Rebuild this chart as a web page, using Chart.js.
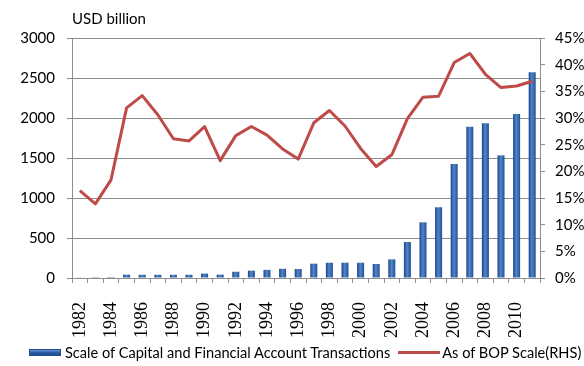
<!DOCTYPE html>
<html>
<head>
<meta charset="utf-8">
<script src="https://cdn.jsdelivr.net/npm/chart.js@4.4.1/dist/chart.umd.min.js"></script>
<style>
  body { margin: 0; background: #fff; }
  #wrap { position: relative; width: 584px; height: 366px; }
  #chart { position: absolute; left: 0; top: 0; }
  #unit { position: absolute; left: 72px; top: 9px; font: 15px Lato, sans-serif; color: #000; }
  #legend { position: absolute; left: 29px; top: 344px; display: flex; align-items: center; font: 14.6px Lato, sans-serif; color: #000; white-space: nowrap; }
  .swatch-bar { width: 32px; height: 7px; margin-right: 4px; background: linear-gradient(#6f9ad6, #2d5ea6 45%, #1e4a8c); border: 1px solid #244f8f; box-sizing: border-box; }
  .swatch-line { width: 42px; height: 3px; margin: 0 2px 0 8px; background: #be4b48; }
</style>
</head>
<body>
<div id="wrap">
  <canvas id="chart" width="584" height="366"></canvas>
  <div id="unit">USD billion</div>
  <div id="legend">
    <span class="swatch-bar"></span><span>Scale of Capital and Financial Account Transactions</span>
    <span class="swatch-line"></span><span>As of BOP Scale(RHS)</span>
  </div>
</div>
<script>
// Années (axe X)
const years = [
  '1982', '1983', '1984', '1985', '1986', '1987', '1988', '1989', '1990', '1991',
  '1992', '1993', '1994', '1995', '1996', '1997', '1998', '1999', '2000', '2001',
  '2002', '2003', '2004', '2005', '2006', '2007', '2008', '2009', '2010', '2011'
];

// Volume des transactions du compte de capital et financier (milliards USD)
const capitalFinancial = [
  8, 10, 12, 42, 40, 40, 40, 40, 55, 42,
  78, 92, 102, 115, 112, 179, 191, 191, 191, 175,
  233, 450, 696, 884, 1425, 1891, 1933, 1533, 2050, 2571
];

// Part dans la balance des paiements (%, axe de droite)
const bopShare = [
  16.4, 13.9, 18.4, 31.9, 34.2, 30.6, 26.1, 25.7, 28.4, 22.0,
  26.7, 28.4, 26.8, 24.2, 22.3, 29.1, 31.4, 28.5, 24.3, 20.9,
  23.1, 29.9, 33.9, 34.1, 40.4, 42.1, 38.2, 35.7, 36.0, 36.9
];

// Graduations des deux axes
const leftTicks = [0, 500, 1000, 1500, 2000, 2500, 3000];
const rightTicks = [0, 5, 10, 15, 20, 25, 30, 35, 40, 45];

const gridColor = '#8e8e8e';

// Dégradé horizontal pour chaque barre (bords foncés, centre clair)
function barGradient(context) {
  const chart = context.chart;
  const x = chart.scales.x;
  if (!x || context.type !== 'data') return '#2d5ea6';
  const px = x.getPixelForValue(context.dataIndex);
  if (!Number.isFinite(px)) return '#2d5ea6';
  const g = chart.ctx.createLinearGradient(px - 3.5, 0, px + 3.5, 0);
  g.addColorStop(0, '#1b4583');
  g.addColorStop(0.45, '#4f86cd');
  g.addColorStop(1, '#23518f');
  return g;
}

const ctx = document.getElementById('chart').getContext('2d');

new Chart(ctx, {
  data: {
    labels: years,
    datasets: [
      {
        type: 'line',
        label: 'As of BOP Scale(RHS)',
        data: bopShare,
        yAxisID: 'y1',
        borderColor: '#be4b48',
        borderWidth: 3,
        borderJoinStyle: 'round',
        pointRadius: 0,
        tension: 0,
        order: 0
      },
      {
        type: 'bar',
        label: 'Scale of Capital and Financial Account Transactions',
        data: capitalFinancial,
        yAxisID: 'y',
        backgroundColor: barGradient,
        borderWidth: 0,
        categoryPercentage: 0.9,
        barPercentage: 0.5,
        order: 1
      }
    ]
  },
  options: {
    responsive: false,
    animation: false,
    layout: { padding: { top: 38, left: 0, right: 0, bottom: 0 } },
    plugins: {
      legend: { display: false },
      tooltip: { enabled: false }
    },
    scales: {
      x: {
        afterFit(scale) { scale.height = 88; },
        grid: {
          offset: true,
          drawOnChartArea: false,
          tickLength: 5,
          color: gridColor
        },
        border: { color: gridColor },
        ticks: {
          autoSkip: false,
          maxRotation: 90,
          minRotation: 90,
          padding: 19,
          color: '#000',
          font: { family: 'Liberation Serif, Times New Roman, serif', size: 18 },
          callback(value, index) { return index % 2 === 0 ? years[index] : ''; }
        }
      },
      y: {
        position: 'left',
        min: 0,
        max: 3000,
        afterFit(scale) { scale.width = 72; },
        afterBuildTicks(scale) { scale.ticks = leftTicks.map(v => ({ value: v })); },
        grid: { color: gridColor, tickLength: 5 },
        border: { color: gridColor },
        ticks: {
          padding: 12,
          color: '#000',
          font: { family: 'Lato', size: 15 },
          callback: v => String(v)
        }
      },
      y1: {
        position: 'right',
        min: 0,
        max: 45,
        afterFit(scale) { scale.width = 44; },
        afterBuildTicks(scale) { scale.ticks = rightTicks.map(v => ({ value: v })); },
        grid: { drawOnChartArea: false, color: gridColor, tickLength: 5 },
        border: { color: gridColor },
        ticks: {
          padding: 10,
          color: '#000',
          font: { family: 'Lato', size: 15 },
          callback: v => v + '%'
        }
      }
    }
  }
});
</script>
</body>
</html>
